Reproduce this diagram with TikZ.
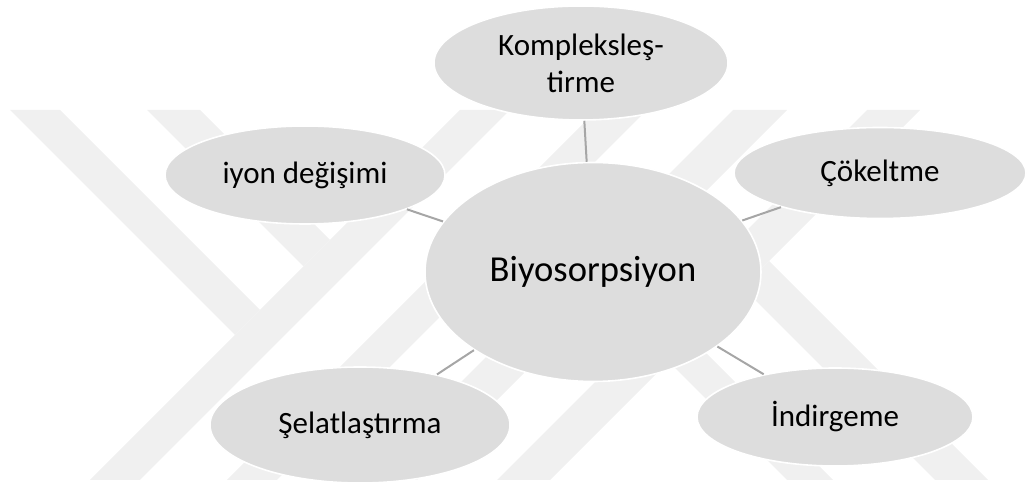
\documentclass[tikz,border=0pt]{standalone}
\usepackage{fontspec}
\setmainfont{Carlito}
\usetikzlibrary{shapes.geometric}
\definecolor{bubblefill}{HTML}{DDDDDD}
\definecolor{linkgray}{HTML}{A6A6A6}
\definecolor{wmgray}{HTML}{F0F0F0}

\begin{document}
\begin{tikzpicture}[x=0.5pt, y=-0.5pt,
  bubble/.style={ellipse, draw=white, line width=0.8pt, fill=bubblefill, inner sep=0pt, align=center, font={\fontsize{15.5}{18.5}\selectfont}},
  hub/.style={bubble, font={\fontsize{18.3}{22}\selectfont}},
  link/.style={draw=linkgray, line width=1pt},
  wmark/.style={fill=wmgray},
]
\useasboundingbox (0,0) rectangle (1028,490);

% watermark in the background
\fill[wmark] (10,110) -- (60,110) -- (260,310) -- (235,335) -- cycle;
\fill[wmark] (147,110) -- (200,110) -- (330,240) -- (303.5,266.5) -- cycle;
\fill[wmark] (90,480) -- (140,480) -- (510,110) -- (460,110) -- cycle;
\fill[wmark] (227,480) -- (277,480) -- (647,110) -- (597,110) -- cycle;
\fill[wmark] (363,480) -- (417,480) -- (787,110) -- (733,110) -- cycle;
\fill[wmark] (497,480) -- (550,480) -- (920,110) -- (867,110) -- cycle;
\fill[wmark] (742.5,287.5) -- (769,261) -- (988,480) -- (935,480) -- cycle;
\fill[wmark] (668.5,361.5) -- (691.5,338.5) -- (833,480) -- (787,480) -- cycle;

\node[hub, minimum width=168pt, minimum height=109.5pt] (bio) at (593,272) {Biyosorpsiyon};
\node[bubble, minimum width=147pt, minimum height=57pt] (komp) at (581,63) {Kompleksleş-\\tirme};
\node[bubble, minimum width=140pt, minimum height=49pt] (iyon) at (305,175) {iyon değişimi};
\node[bubble, minimum width=146pt, minimum height=45.5pt] (cokel) at (880,173) {Çökeltme};
\node[bubble, minimum width=150pt, minimum height=58pt] (selat) at (360,425) {Şelatlaştırma};
\node[bubble, minimum width=138pt, minimum height=49pt] (indir) at (835,417) {İndirgeme};

\draw[link] (bio) -- (komp);
\draw[link] (bio) -- (iyon);
\draw[link] (bio) -- (cokel);
\draw[link] (bio) -- (selat);
\draw[link] (bio) -- (indir);

\end{tikzpicture}
\end{document}
